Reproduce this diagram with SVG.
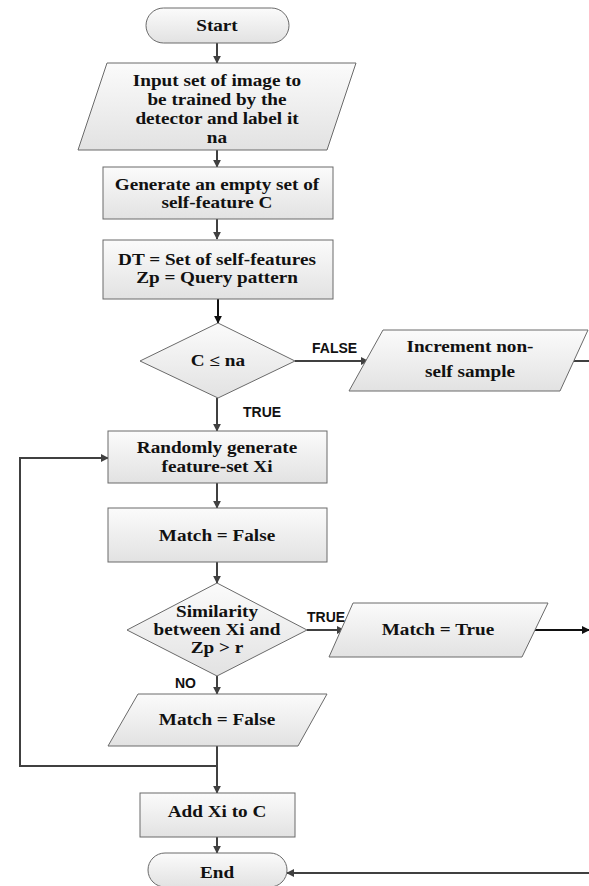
<svg xmlns="http://www.w3.org/2000/svg" width="589" height="886" viewBox="0 0 589 886">
<defs>
<linearGradient id="g" x1="0" y1="0" x2="0" y2="1">
<stop offset="0" stop-color="#fbfbfb"/>
<stop offset="1" stop-color="#e2e2e2"/>
</linearGradient>
<marker id="ah" viewBox="0 0 10 10" refX="9" refY="5" markerWidth="4" markerHeight="4" orient="auto" markerUnits="strokeWidth">
<path d="M0,0 L10,5 L0,10 Z" fill="#404040"/>
</marker>
<marker id="ahb" viewBox="0 0 10 10" refX="9" refY="5" markerWidth="4" markerHeight="4" orient="auto" markerUnits="strokeWidth">
<path d="M0,0 L10,5 L0,10 Z" fill="#111"/>
</marker>
</defs>
<style>
.s{fill:url(#g);stroke:#6a6a6a;stroke-width:1}
.t{font-family:"Liberation Serif",serif;font-weight:bold;font-size:16px;fill:#111;text-anchor:middle}
.l{font-family:"Liberation Sans",sans-serif;font-weight:bold;font-size:14px;fill:#111}
.c{fill:none;stroke:#404040;stroke-width:2;marker-end:url(#ah)}
.n{fill:none;stroke:#404040;stroke-width:2}
.cb{fill:none;stroke:#111;stroke-width:2;marker-end:url(#ahb)}
</style>
<rect width="589" height="886" fill="#fff"/>
<g id="connectors">
<path class="c" d="M217,43 V63"/>
<path class="c" d="M217,150 V167"/>
<path class="c" d="M217,219 V239"/>
<path class="cb" d="M218,299 V323"/>
<path class="c" d="M295,361 H368"/>
<path class="n" d="M574,361 H589"/>
<path class="c" d="M217,398 V431"/>
<path class="c" d="M217,483 V508"/>
<path class="c" d="M217,562 V583"/>
<path class="c" d="M307,630 H344"/>
<path class="cb" d="M535,630 H589"/>
<path class="c" d="M217,676 V694"/>
<path class="c" d="M217,746 V793"/>
<path class="c" d="M217,766 H20 V458 H108"/>
<path class="c" d="M217,837 V853"/>
<path class="c" d="M589,873 H287"/>
</g>
<g id="start">
<rect class="s" x="146" y="8" width="143" height="35" rx="17.5"/>
<text class="t" x="217" y="31" transform="matrix(1.2,0,0,1,-43.4,0)">Start</text>
</g>
<g id="input">
<polygon class="s" points="107,63 356,63 327,150 78,150"/>
<g transform="matrix(1.2,0,0,1,-43.4,0)">
<text class="t" x="217" y="86">Input set of image to</text>
<text class="t" x="217" y="105">be trained by the</text>
<text class="t" x="217" y="124">detector and label it</text>
<text class="t" x="217" y="143">na</text>
</g>
</g>
<g id="generate">
<rect class="s" x="103" y="167" width="230" height="52"/>
<g transform="matrix(1.2,0,0,1,-43.4,0)">
<text class="t" x="217" y="190">Generate an empty set of</text>
<text class="t" x="217" y="208">self-feature C</text>
</g>
</g>
<g id="dt">
<rect class="s" x="103" y="240" width="230" height="59"/>
<g transform="matrix(1.2,0,0,1,-43.4,0)">
<text class="t" x="217" y="265">DT = Set of self-features</text>
<text class="t" x="217" y="283">Zp = Query pattern</text>
</g>
</g>
<g id="decision1">
<polygon class="s" points="218,323 295,361 218,398 140,361"/>
<text class="t" x="218" y="366" transform="matrix(1.2,0,0,1,-43.6,0)">C ≤ na</text>
</g>
<text class="l" x="312" y="353">FALSE</text>
<text class="l" x="243" y="417">TRUE</text>
<g id="increment">
<polygon class="s" points="383,330 588,330 560,391 349,391"/>
<g transform="matrix(1.2,0,0,1,-94,0)">
<text class="t" x="470" y="352">Increment non-</text>
<text class="t" x="470" y="377">self sample</text>
</g>
</g>
<g id="random">
<rect class="s" x="108" y="431" width="219" height="52"/>
<g transform="matrix(1.2,0,0,1,-43.4,0)">
<text class="t" x="217" y="453">Randomly generate</text>
<text class="t" x="217" y="472">feature-set Xi</text>
</g>
</g>
<g id="match-false-1">
<rect class="s" x="108" y="508" width="219" height="54"/>
<text class="t" x="217" y="541" transform="matrix(1.2,0,0,1,-43.4,0)">Match = False</text>
</g>
<g id="decision2">
<polygon class="s" points="217,583 307,630 217,676 127,630"/>
<g transform="matrix(1.2,0,0,1,-43.4,0)">
<text class="t" x="217" y="617">Similarity</text>
<text class="t" x="217" y="635">between Xi and</text>
<text class="t" x="217" y="653">Zp &gt; r</text>
</g>
</g>
<text class="l" x="307" y="622">TRUE</text>
<text class="l" x="175" y="688">NO</text>
<g id="match-true">
<polygon class="s" points="353,603 548,603 522,657 329,657"/>
<text class="t" x="438" y="635" transform="matrix(1.2,0,0,1,-87.6,0)">Match = True</text>
</g>
<g id="match-false-2">
<polygon class="s" points="138,694 327,694 298,746 108,746"/>
<text class="t" x="217" y="725" transform="matrix(1.2,0,0,1,-43.4,0)">Match = False</text>
</g>
<g id="add">
<rect class="s" x="140" y="793" width="155" height="44"/>
<text class="t" x="217" y="817" transform="matrix(1.2,0,0,1,-43.4,0)">Add Xi to C</text>
</g>
<g id="end">
<rect class="s" x="148" y="853" width="139" height="34" rx="17"/>
<text class="t" x="217" y="878" transform="matrix(1.2,0,0,1,-43.4,0)">End</text>
</g>
</svg>
